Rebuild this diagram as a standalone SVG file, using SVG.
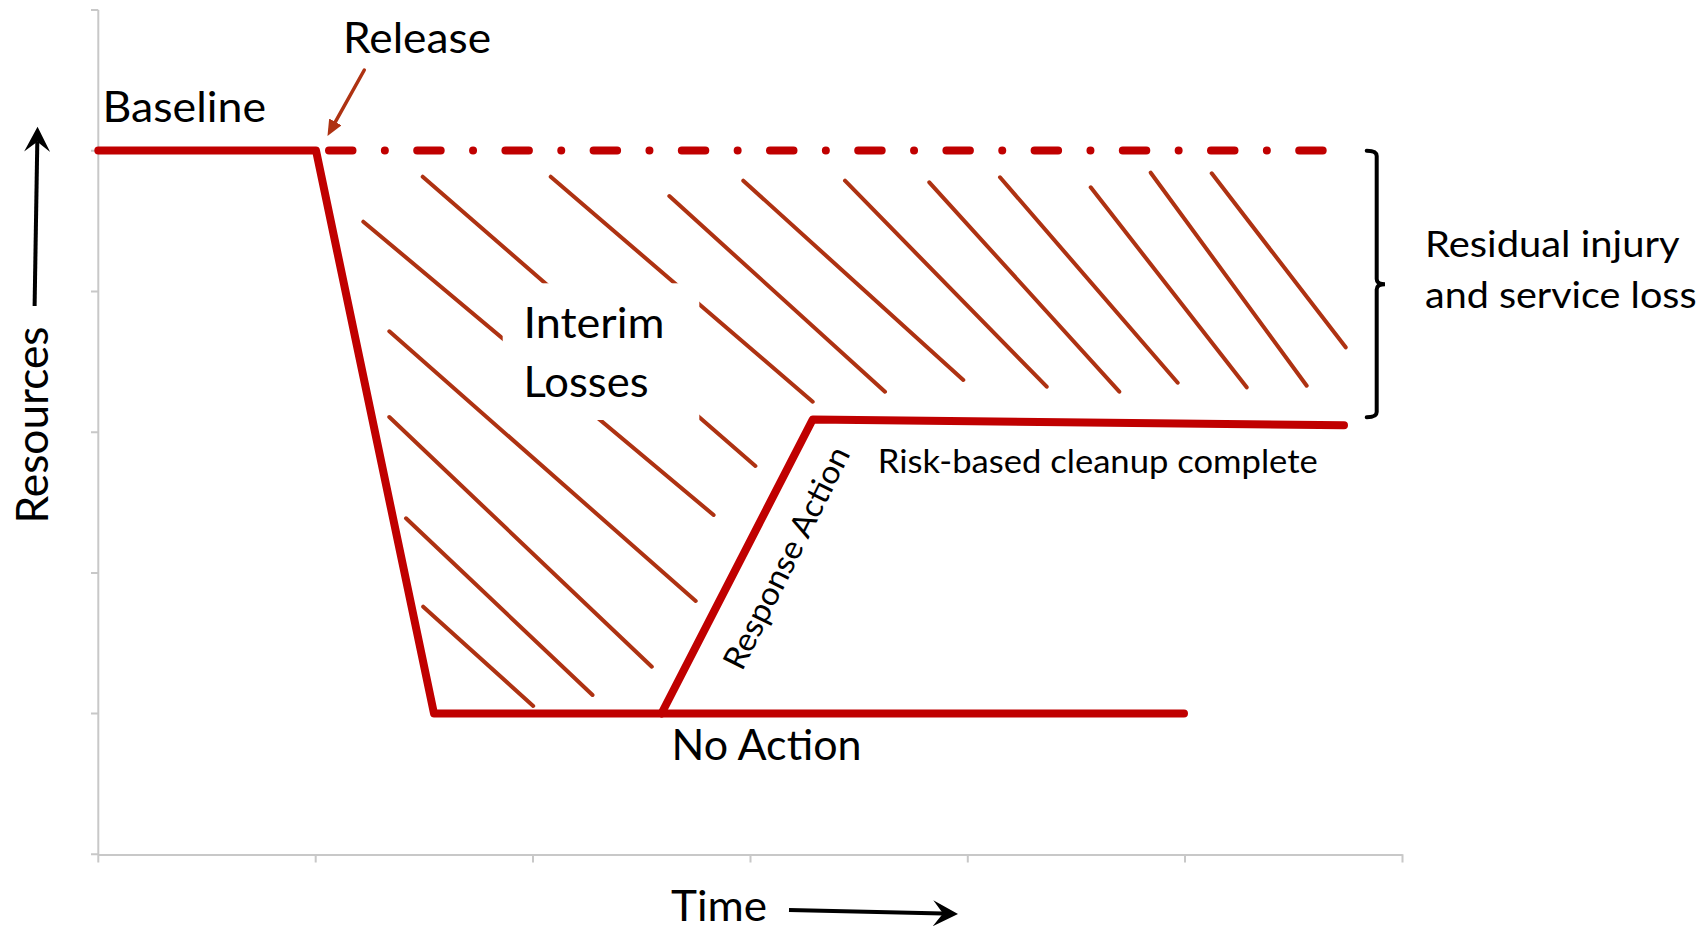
<svg xmlns="http://www.w3.org/2000/svg" width="1706" height="929" viewBox="0 0 1706 929">
<style>
.axis{stroke:#C8C8C8;stroke-width:2;fill:none}
.main{stroke:#C00000;stroke-width:8;fill:none;stroke-linejoin:round;stroke-linecap:round}
.dashdot{stroke:#C00000;stroke-width:8;fill:none;stroke-linecap:round;stroke-dasharray:23.5 32.35 0 32.35}
.hatch{stroke:#AE3212;stroke-width:4;stroke-linecap:round;fill:none}
.lbl{font-family:Lato,"Open Sans","Liberation Sans",sans-serif;fill:#000}
.big{font-size:42px}
.mid{font-size:36px}
.small{font-size:32px}
</style>
<defs>
<marker id="arrowBlack" markerUnits="userSpaceOnUse" markerWidth="26" markerHeight="26" viewBox="0 0 25 26" refX="10" refY="13" orient="auto">
<path d="M0,0 L25,13 L0,26 L10,13 Z" fill="#000"/>
</marker>
<marker id="arrowBrown" markerUnits="userSpaceOnUse" markerWidth="16" markerHeight="14" viewBox="0 0 16 14" refX="1" refY="7" orient="auto">
<path d="M0,0 L16,7 L0,14 Z" fill="#AE3212"/>
</marker>
</defs>
<rect width="1706" height="929" fill="#fff"/>
<g id="axes">
<path class="axis" d="M98.3,10 V855 M98.3,855 H1402.5"/>
<path class="axis" d="M91,10.1 H98.3 M91,150.8 H98.3 M91,291.5 H98.3 M91,432.2 H98.3 M91,572.9 H98.3 M91,713.6 H98.3 M91,854.3 H98.3"/>
<path class="axis" d="M98.3,854.3 V862.5 M315.7,854.3 V862.5 M533,854.3 V862.5 M750.5,854.3 V862.5 M967.8,854.3 V862.5 M1185,854.3 V862.5 M1402.5,854.3 V862.5"/>
</g>
<g id="hatch">
<line class="hatch" x1="422.7" y1="176.7" x2="755.4" y2="466"/>
<line class="hatch" x1="550.7" y1="176.7" x2="812.7" y2="401.7"/>
<line class="hatch" x1="363.3" y1="221.7" x2="713.6" y2="515"/>
<line class="hatch" x1="389.3" y1="331.3" x2="695.7" y2="601"/>
<line class="hatch" x1="389.3" y1="417" x2="651.8" y2="666.7"/>
<line class="hatch" x1="406" y1="518.3" x2="592.5" y2="695"/>
<line class="hatch" x1="423.2" y1="606.7" x2="533.2" y2="706"/>
<line class="hatch" x1="669.3" y1="196" x2="885" y2="391.7"/>
<line class="hatch" x1="743.3" y1="180.7" x2="963.3" y2="380"/>
<line class="hatch" x1="845" y1="180.7" x2="1046.7" y2="386.7"/>
<line class="hatch" x1="929.3" y1="182.3" x2="1119.3" y2="391.7"/>
<line class="hatch" x1="1000" y1="177.3" x2="1177.7" y2="382.7"/>
<line class="hatch" x1="1090.7" y1="187.3" x2="1246.7" y2="387.3"/>
<line class="hatch" x1="1150.7" y1="172.7" x2="1306.7" y2="385.7"/>
<line class="hatch" x1="1211.7" y1="173.3" x2="1345.7" y2="347.3"/>
</g>
<g id="interim-losses">
<rect x="502.7" y="283.3" width="196.6" height="136.7" fill="#fff"/>
<text class="lbl big" x="523.5" y="338.3" textLength="141" lengthAdjust="spacingAndGlyphs">Interim</text>
<text class="lbl big" x="523.5" y="396.7" textLength="125" lengthAdjust="spacingAndGlyphs">Losses</text>
</g>
<g id="connectors">
<line class="dashdot" x1="329" y1="150.5" x2="1322.7" y2="150.5"/>
<polyline id="no-action-path" class="main" points="98.3,150.5 316,150.5 434,713.5 1184,713.5"/>
<polyline id="response-path" class="main" points="661.5,713.5 812.7,419.5 1344,425.3"/>
<line id="release-arrow" x1="364.3" y1="70" x2="334.8" y2="122.8" stroke="#AE3212" stroke-width="3.5" stroke-linecap="round" marker-end="url(#arrowBrown)"/>
<line id="resources-arrow" x1="34.6" y1="306" x2="37.3" y2="141.7" stroke="#000" stroke-width="4" marker-end="url(#arrowBlack)"/>
<line id="time-arrow" x1="789" y1="910" x2="943" y2="913.6" stroke="#000" stroke-width="4" marker-end="url(#arrowBlack)"/>
<path id="bracket" d="M1366.7,150.7 Q1376.7,150.7 1376.7,156 L1376.7,279 Q1376.7,284.3 1385,284.3 Q1376.7,284.3 1376.7,289.6 L1376.7,412 Q1376.7,417.3 1366.7,417.3" fill="none" stroke="#000" stroke-width="4" stroke-linecap="round"/>
</g>
<g id="label-release"><text class="lbl big" x="343" y="53.3" textLength="148" lengthAdjust="spacingAndGlyphs">Release</text></g>
<g id="label-baseline"><text class="lbl big" x="102.5" y="121.7" textLength="163.5" lengthAdjust="spacingAndGlyphs">Baseline</text></g>
<g id="label-residual">
<text class="lbl mid" x="1425" y="257.3" textLength="254.5" lengthAdjust="spacingAndGlyphs">Residual injury</text>
<text class="lbl mid" x="1425" y="308.3" textLength="271.5" lengthAdjust="spacingAndGlyphs">and service loss</text>
</g>
<g id="label-risk"><text class="lbl small" x="877.8" y="472.7" textLength="440" lengthAdjust="spacingAndGlyphs">Risk-based cleanup complete</text></g>
<g id="label-response"><text class="lbl small" transform="translate(742,672) rotate(-63.5)" textLength="244" lengthAdjust="spacingAndGlyphs">Response Action</text></g>
<g id="label-noaction"><text class="lbl big" x="671.5" y="760" textLength="190" lengthAdjust="spacingAndGlyphs">No Action</text></g>
<g id="label-time"><text class="lbl big" x="671" y="921" textLength="96" lengthAdjust="spacingAndGlyphs">Time</text></g>
<g id="label-resources"><text class="lbl big" transform="translate(48.3,523.5) rotate(-90)" style="font-size:44px" textLength="197" lengthAdjust="spacingAndGlyphs">Resources</text></g>
</svg>
